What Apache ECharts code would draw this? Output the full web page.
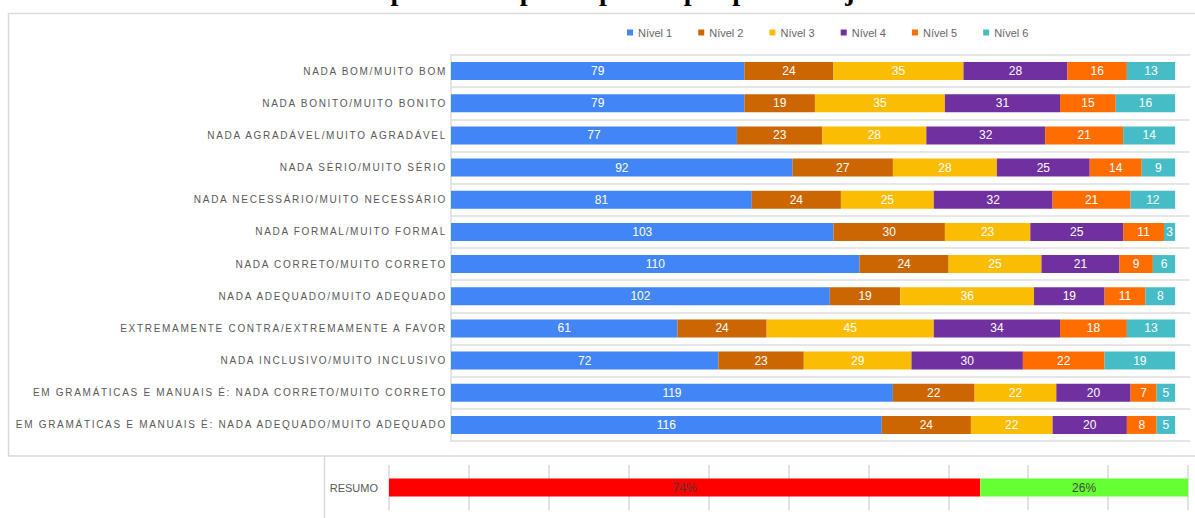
<!DOCTYPE html>
<html><head><meta charset="utf-8">
<script src="https://cdn.jsdelivr.net/npm/echarts@6/dist/echarts.min.js"></script>
<style>html,body{margin:0;padding:0;background:#fff}#main{width:1195px;height:518px}</style>
</head><body><div id="main"></div>
<script>
const titleText = 'Respostas dos participantes por par de adjetivos';
const categories = [
  'NADA BOM/MUITO BOM',
  'NADA BONITO/MUITO BONITO',
  'NADA AGRADÁVEL/MUITO AGRADÁVEL',
  'NADA SÉRIO/MUITO SÉRIO',
  'NADA NECESSÁRIO/MUITO NECESSÁRIO',
  'NADA FORMAL/MUITO FORMAL',
  'NADA CORRETO/MUITO CORRETO',
  'NADA ADEQUADO/MUITO ADEQUADO',
  'EXTREMAMENTE CONTRA/EXTREMAMENTE A FAVOR',
  'NADA INCLUSIVO/MUITO INCLUSIVO',
  'EM GRAMÁTICAS E MANUAIS É: NADA CORRETO/MUITO CORRETO',
  'EM GRAMÁTICAS E MANUAIS É: NADA ADEQUADO/MUITO ADEQUADO'
];
const levelNames = ['Nível 1', 'Nível 2', 'Nível 3', 'Nível 4', 'Nível 5', 'Nível 6'];
const nivel1 = [79, 79, 77, 92, 81, 103, 110, 102, 61, 72, 119, 116];
const nivel2 = [24, 19, 23, 27, 24, 30, 24, 19, 24, 23, 22, 24];
const nivel3 = [35, 35, 28, 28, 25, 23, 25, 36, 45, 29, 22, 22];
const nivel4 = [28, 31, 32, 25, 32, 25, 21, 19, 34, 30, 20, 20];
const nivel5 = [16, 15, 21, 14, 21, 11, 9, 11, 18, 22, 7, 8];
const nivel6 = [13, 16, 14, 9, 12, 3, 6, 8, 13, 19, 5, 5];
const levelColors = ['#4285F4', '#CC6600', '#FBBC04', '#7030A0', '#FF6D01', '#46BDC6'];
const summaryCategory = ['RESUMO'];
const summaryNegative = [74];
const summaryPositive = [26];

const FONT = '"Liberation Sans", Arial, sans-serif';
const chart = echarts.init(document.getElementById('main'), null, {renderer: 'svg'});
const levels = [nivel1, nivel2, nivel3, nivel4, nivel5, nivel6];

const series = levels.map((d, i) => ({
  name: levelNames[i], type: 'bar', stack: 'niveis',
  xAxisIndex: 0, yAxisIndex: 0, data: d, barWidth: 18,
  itemStyle: {color: levelColors[i]},
  emphasis: {disabled: true},
  label: {show: true, position: 'inside', color: '#fff', fontSize: 12, fontFamily: FONT}
}));
series.push({
  name: 'neg', type: 'bar', stack: 'resumo', xAxisIndex: 1, yAxisIndex: 1,
  data: summaryNegative, barWidth: 18, itemStyle: {color: '#FF0000'},
  emphasis: {disabled: true},
  label: {show: true, position: 'inside', formatter: '{c}%', color: '#5a3030', fontSize: 12, fontFamily: FONT}
});
series.push({
  name: 'pos', type: 'bar', stack: 'resumo', xAxisIndex: 1, yAxisIndex: 1,
  data: summaryPositive, barWidth: 18, itemStyle: {color: '#66FF33'},
  emphasis: {disabled: true},
  label: {show: true, position: 'inside', formatter: '{c}%', color: '#444', fontSize: 12, fontFamily: FONT}
});

const option = {
  animation: false,
  textStyle: {fontFamily: FONT},
  legend: {
    data: levelNames, left: 622, top: 22, icon: 'rect', itemWidth: 6, itemHeight: 6, itemGap: 26,
    textStyle: {color: '#666', fontSize: 11, fontFamily: FONT}
  },
  grid: [
    {left: 451, top: 55, width: 739, height: 386},
    {left: 389, top: 465, width: 799, height: 45}
  ],
  xAxis: [
    {gridIndex: 0, type: 'value', min: 0, max: 199, show: false},
    {gridIndex: 1, type: 'value', min: 0, max: 100, interval: 10,
     axisLabel: {show: false}, axisLine: {show: false}, axisTick: {show: false},
     splitLine: {show: true, lineStyle: {color: '#e2e2e2', width: 2}}}
  ],
  yAxis: [
    {gridIndex: 0, type: 'category', inverse: true, data: categories,
     axisLine: {show: true, lineStyle: {color: '#dcdcdc', width: 1.5}},
     axisTick: {show: false},
     splitLine: {show: true, interval: 0, lineStyle: {color: '#e6e6e6', width: 2}},
     axisLabel: {color: '#595959', fontSize: 10, margin: 4, fontFamily: FONT, interval: 0}},
    {gridIndex: 1, type: 'category', data: summaryCategory,
     axisLine: {show: false}, axisTick: {show: false},
     axisLabel: {color: '#595959', fontSize: 11, margin: 11, fontFamily: FONT}}
  ],
  graphic: [
    {type: 'rect', silent: true, shape: {x: 8.5, y: 13.5, width: 1200, height: 442.5},
     style: {fill: 'none', stroke: '#d9d9d9', lineWidth: 1.5}},
    {type: 'line', silent: true, shape: {x1: 324.5, y1: 456, x2: 324.5, y2: 518},
     style: {stroke: '#d9d9d9', lineWidth: 1.5}},
    {type: 'text', silent: true, x: 635, y: -10,
     style: {text: titleText, font: 'bold 28px "Liberation Serif", serif', fill: '#000',
             textAlign: 'center', textVerticalAlign: 'middle', align: 'center', verticalAlign: 'middle'}}
  ],
  series: series
};

function applySpacing() {
  document.querySelectorAll('#main text').forEach(t => {
    if (categories.includes(t.textContent)) {
      t.setAttribute('letter-spacing', '1.7');
      t.style.letterSpacing = '1.7px';
    }
  });
}
chart.on('finished', applySpacing);
chart.setOption(option);
applySpacing();
setTimeout(applySpacing, 30);
</script>
</body></html>
